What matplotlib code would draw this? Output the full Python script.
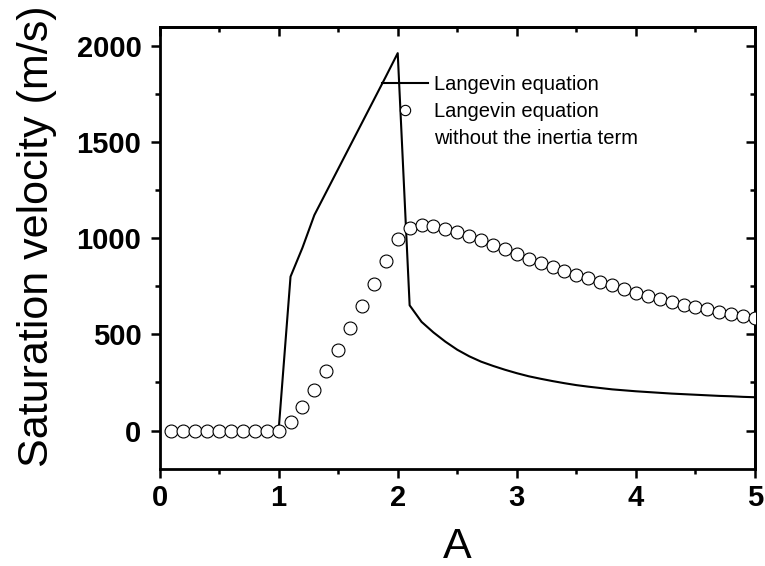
import matplotlib
matplotlib.use("Agg")
import matplotlib.pyplot as plt
from matplotlib.lines import Line2D
from matplotlib.ticker import MultipleLocator

plt.rcParams['font.family'] = ['Liberation Sans', 'DejaVu Sans']

# Langevin equation (solid line)
line_A = [0.1, 0.2, 0.3, 0.4, 0.5, 0.6, 0.7, 0.8, 0.9, 1.0,
          1.1, 1.2, 1.3, 1.4, 1.5, 1.6, 1.7, 1.8, 1.9, 2.0,
          2.1, 2.2, 2.3, 2.4, 2.5, 2.6, 2.7, 2.8, 2.9, 3.0,
          3.1, 3.2, 3.3, 3.4, 3.5, 3.6, 3.7, 3.8, 3.9, 4.0,
          4.1, 4.2, 4.3, 4.4, 4.5, 4.6, 4.7, 4.8, 4.9, 5.0]
line_v = [0, 0, 0, 0, 0, 0, 0, 0, 0, 0,
          800, 950, 1120, 1240, 1360, 1480, 1600, 1720, 1840, 1962,
          651, 565, 510, 462, 420, 386, 358, 336, 316, 298,
          282, 269, 257, 246, 236, 228, 221, 214, 209, 204,
          200, 196, 192, 189, 186, 183, 180, 178, 175, 173]

# Langevin equation without the inertia term (open circles)
circ_A = line_A
circ_v = [0, 0, 0, 0, 0, 0, 0, 0, 0, 0,
          44, 120, 212, 312, 419, 534, 647, 762, 882, 998,
          1055, 1069, 1064, 1050, 1032, 1013, 989, 967, 942, 920,
          894, 873, 851, 830, 809, 792, 771, 754, 735, 716,
          700, 683, 669, 653, 642, 631, 617, 605, 595, 583]

labels = ["Langevin equation", "Langevin equation", "without the inertia term"]
x_label = "A"
y_label = "Saturation velocity (m/s)"

fig = plt.figure(figsize=(7.65, 5.66), dpi=100)
ax = fig.add_axes([0.2085, 0.1714, 0.7785, 0.7816])

ax.plot(line_A, line_v, color='black', lw=1.5, zorder=2)
ax.plot(circ_A, circ_v, ls='none', marker='o', ms=9.3, mfc='white',
        mec='black', mew=0.8, zorder=3)

ax.set_xlim(0, 5)
ax.set_ylim(-200, 2100)
ax.xaxis.set_major_locator(MultipleLocator(1))
ax.xaxis.set_minor_locator(MultipleLocator(0.5))
ax.yaxis.set_major_locator(MultipleLocator(500))
ax.yaxis.set_minor_locator(MultipleLocator(250))

for s in ax.spines.values():
    s.set_linewidth(2.0)

ax.tick_params(which='both', direction='out', width=1.8, bottom=True, left=True,
               top=False, right=False)
ax.tick_params(which='major', length=6.5)
ax.tick_params(which='minor', length=3.6)
ax.tick_params(axis='x', which='major', pad=4.5, labelsize=21)
ax.tick_params(axis='y', which='major', pad=6.5, labelsize=21)
for t in ax.get_xticklabels() + ax.get_yticklabels():
    t.set_fontweight('bold')

# mirrored ticks (inward) on top and right
axt = ax.secondary_xaxis('top')
axt.xaxis.set_major_locator(MultipleLocator(1))
axt.xaxis.set_minor_locator(MultipleLocator(0.5))
axt.tick_params(which='both', direction='in', width=1.8, labeltop=False)
axt.tick_params(which='major', length=6.5)
axt.tick_params(which='minor', length=3.6)
axt.spines['top'].set_linewidth(2.0)
axr = ax.secondary_yaxis('right')
axr.yaxis.set_major_locator(MultipleLocator(500))
axr.yaxis.set_minor_locator(MultipleLocator(250))
axr.tick_params(which='both', direction='in', width=1.8, labelright=False)
axr.tick_params(which='major', length=6.5)
axr.tick_params(which='minor', length=3.6)
axr.spines['right'].set_linewidth(2.0)

ax.set_xlabel(x_label, fontsize=31)
ax.set_ylabel(y_label, fontsize=31)
ax.xaxis.set_label_coords(0.5, -0.131)
ax.yaxis.set_label_coords(-0.172, 0.527)

handles = [
    Line2D([], [], color='black', lw=1.5),
    Line2D([], [], ls='none', marker='o', ms=9.3, mfc='white', mec='black', mew=0.8),
    Line2D([], [], ls='none'),
]
ax.legend(handles, labels, loc='upper left', bbox_to_anchor=(0.374, 0.891),
          frameon=False, fontsize=14.5, handlelength=2.25, handletextpad=0.3,
          labelspacing=0.4, borderpad=0, borderaxespad=0, markerscale=0.8)

fig.savefig("out.png", dpi=100)
